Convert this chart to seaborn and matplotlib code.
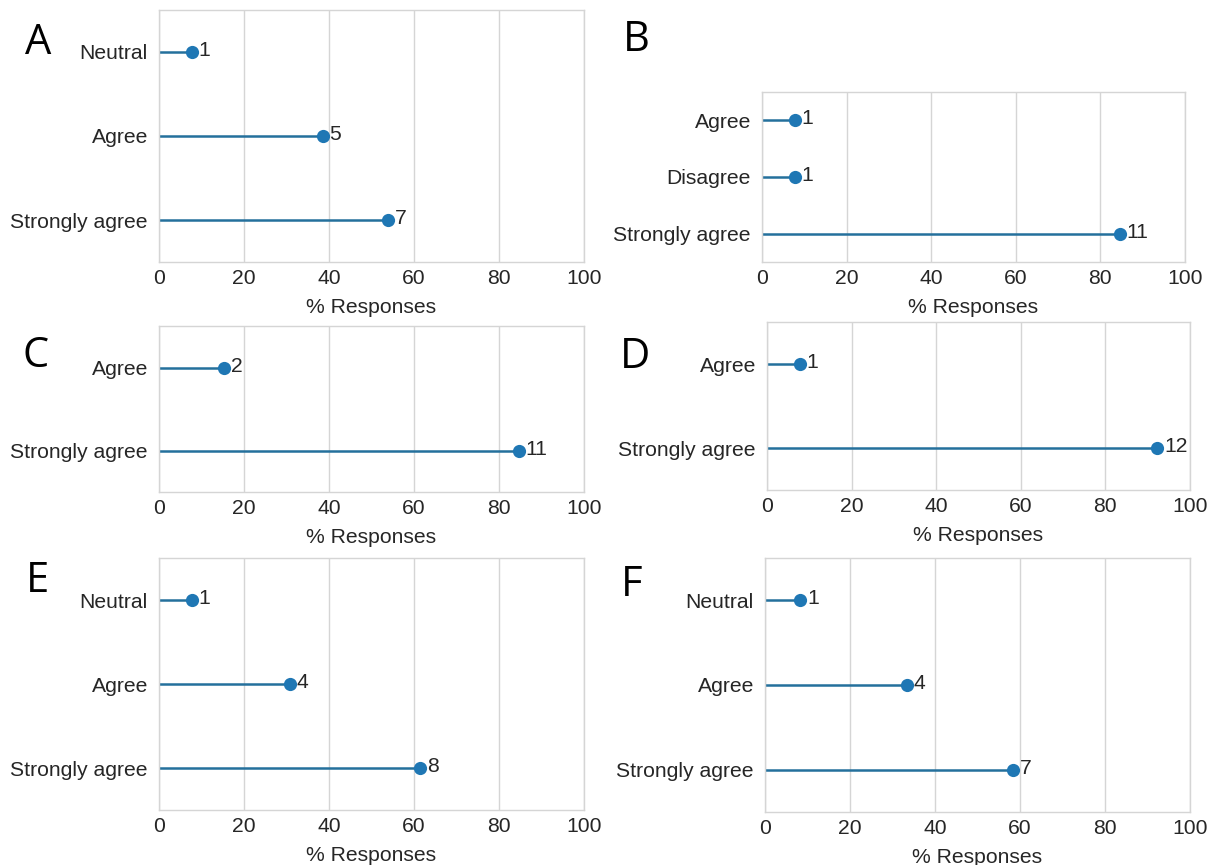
import matplotlib
matplotlib.use("Agg")
import matplotlib.pyplot as plt
import seaborn as sns
import pandas as pd

# ---- data ----
cats_A = ["Neutral", "Agree", "Strongly agree"]
pct_A = [7.7, 38.5, 53.8]
cnt_A = [1, 5, 7]

cats_B = ["Agree", "Disagree", "Strongly agree"]
pct_B = [7.7, 7.7, 84.6]
cnt_B = [1, 1, 11]

cats_C = ["Agree", "Strongly agree"]
pct_C = [15.4, 84.6]
cnt_C = [2, 11]

cats_D = ["Agree", "Strongly agree"]
pct_D = [7.7, 92.3]
cnt_D = [1, 12]

cats_E = ["Neutral", "Agree", "Strongly agree"]
pct_E = [7.7, 30.8, 61.5]
cnt_E = [1, 4, 8]

cats_F = ["Neutral", "Agree", "Strongly agree"]
pct_F = [8.3, 33.3, 58.3]
cnt_F = [1, 4, 7]

panel_letters = ["A", "B", "C", "D", "E", "F"]
x_ticks = [0, 20, 40, 60, 80, 100]

sns.set_theme(style="whitegrid")
plt.rcParams["font.family"] = ["Liberation Sans", "DejaVu Sans"]

W, H = 1215, 865
fig = plt.figure(figsize=(W / 100, H / 100), dpi=100)

# axes rectangles in pixel coordinates: left, right, top, bottom
rects = [
    (159, 584, 10, 262),
    (762, 1185, 92, 262),
    (159, 584, 326, 492),
    (767, 1190, 322, 490),
    (159, 584, 558, 810),
    (765, 1190, 558, 812),
]
letter_pos = [(38, 43), (636, 40), (36, 356), (635, 357), (37, 581), (632, 585)]

panels = [
    (cats_A, pct_A, cnt_A),
    (cats_B, pct_B, cnt_B),
    (cats_C, pct_C, cnt_C),
    (cats_D, pct_D, cnt_D),
    (cats_E, pct_E, cnt_E),
    (cats_F, pct_F, cnt_F),
]

line_color = "#24709c"
dot_color = "#1f77b4"
fs = 15.2

for (cats, pct, cnt), (l, r, t, b), letter, (lx, ly) in zip(panels, rects, panel_letters, letter_pos):
    ax = fig.add_axes([l / W, 1 - b / H, (r - l) / W, (b - t) / H])
    df = pd.DataFrame({"cat": cats, "pct": pct})
    ax.hlines(y=range(len(cats)), xmin=0, xmax=df["pct"], color=line_color, linewidth=1.8, zorder=2)
    sns.stripplot(data=df, x="pct", y="cat", order=cats, jitter=False, color=dot_color,
                  size=9.5, linewidth=0, ax=ax, zorder=3)
    for i, (v, c) in enumerate(zip(pct, cnt)):
        ax.annotate(str(c), (v, i), xytext=(5, 1), textcoords="offset points",
                    ha="left", va="center", fontsize=fs, color="#262626")
    ax.set_xlim(0, 100)
    ax.set_xticks(x_ticks)
    ax.set_ylim(len(cats) - 0.5, -0.5)
    ax.set_xlabel("% Responses", fontsize=fs, color="#262626", labelpad=7)
    ax.set_ylabel("")
    ax.tick_params(axis="x", labelsize=fs, colors="#262626", length=0, pad=5)
    ax.tick_params(axis="y", labelsize=fs, colors="#262626", length=0, pad=8)
    ax.grid(axis="x", color="#d5d5d5", linewidth=1.0)
    ax.grid(axis="y", visible=False)
    for s in ax.spines.values():
        s.set_color("#d5d5d5")
        s.set_linewidth(1.0)
    fig.text(lx / W, 1 - ly / H, letter, fontsize=30, family=["Open Sans", "DejaVu Sans"],
             ha="center", va="center", color="black")

fig.savefig("out.png", dpi=100, facecolor="white")
